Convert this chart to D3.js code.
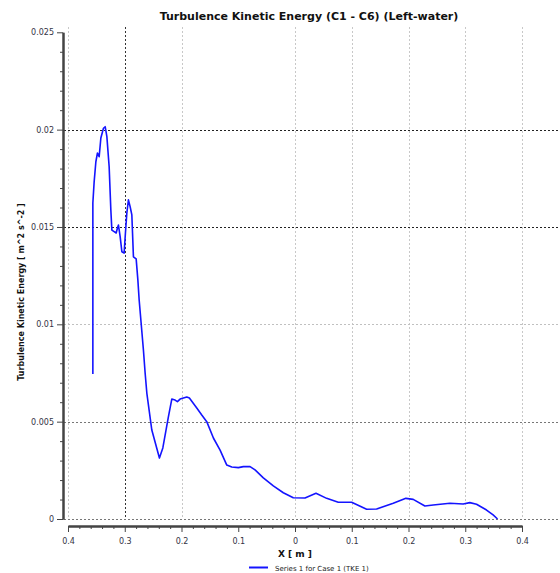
<!DOCTYPE html>
<html>
<head>
<meta charset="utf-8">
<script src="https://cdn.jsdelivr.net/npm/d3@7"></script>
<style>
  html, body { margin: 0; padding: 0; background: #fff; }
  svg { display: block; }
  text { font-family: "DejaVu Sans", Verdana, sans-serif; }
</style>
</head>
<body>
<svg id="chart" width="560" height="573"></svg>
<script>
// Profile of turbulence kinetic energy along X
const xPos = [
  -0.3562, -0.3562, -0.3539, -0.3509, -0.3481, -0.3451, -0.3421, -0.3375, -0.3345, -0.3315,
  -0.3275, -0.3245, -0.3227, -0.3187, -0.3151, -0.3129, -0.3111, -0.3081, -0.3051, -0.3011,
  -0.2988, -0.2963, -0.2935, -0.2905, -0.2875, -0.2847, -0.2799, -0.2769, -0.2746, -0.2671,
  -0.2641, -0.2611, -0.2523, -0.2389, -0.2329, -0.2231, -0.2171, -0.2113, -0.2072, -0.2025,
  -0.1907, -0.1861, -0.1731, -0.1643, -0.1555, -0.1438, -0.1320, -0.1202, -0.1114, -0.0998,
  -0.0910, -0.0792, -0.0704, -0.0558, -0.0382, -0.0206, -0.0030, 0.0176, 0.0370, 0.0558,
  0.0762, 0.0998, 0.1262, 0.1438, 0.1731, 0.1954, 0.2083, 0.2289, 0.2435, 0.2729,
  0.2963, 0.3081, 0.3199, 0.3375, 0.3491, 0.3569
];
const tke = [
  0.00745, 0.01623, 0.01733, 0.01835, 0.01880, 0.01861, 0.01957, 0.02007, 0.02015, 0.01964,
  0.01810, 0.01587, 0.01484, 0.01476, 0.01469, 0.01495, 0.01510, 0.01450, 0.01373, 0.01366,
  0.01469, 0.01572, 0.01639, 0.01604, 0.01562, 0.01347, 0.01336, 0.01228, 0.01125, 0.00868,
  0.00750, 0.00647, 0.00457, 0.00313, 0.00365, 0.00525, 0.00616, 0.00611, 0.00603, 0.00616,
  0.00627, 0.00622, 0.00570, 0.00534, 0.00500, 0.00416, 0.00354, 0.00277, 0.00267, 0.00264,
  0.00269, 0.00269, 0.00252, 0.00211, 0.00170, 0.00135, 0.00109, 0.00108, 0.00132, 0.00106,
  0.00086, 0.00086, 0.00050, 0.00051, 0.00081, 0.00106, 0.00101, 0.00067, 0.00072, 0.00081,
  0.00077, 0.00084, 0.00076, 0.00046, 0.00021, 0.0
];

// Axis ticks and their printed labels
const xTicks = [-0.4, -0.3, -0.2, -0.1, 0, 0.1, 0.2, 0.3, 0.4];
const xTickLabels = ["0.4", "0.3", "0.2", "0.1", "0", "0.1", "0.2", "0.3", "0.4"];
const yTicks = [0, 0.005, 0.01, 0.015, 0.02, 0.025];
const yTickLabels = ["0", "0.005", "0.01", "0.015", "0.02", "0.025"];

// Grid lines drawn across the plot
const xGridLight = [-0.4, -0.2, 0, 0.1, 0.2, 0.3, 0.4];
const xGridDark = [-0.3];
const yGridDark = [0.015, 0.02];
const yGridMid = [0, 0.005];
const yGridLight = [0.01];

const titleText = "Turbulence Kinetic Energy (C1 - C6) (Left-water)";
const xTitle = "X [ m ]";
const yTitle = "Turbulence Kinetic Energy [ m^2 s^-2 ]";
const seriesName = "Series 1 for Case 1 (TKE 1)";

const svg = d3.select("#chart");
const W = 560;
const plotTop = 27, plotBottom = 519;

const x = d3.scaleLinear().domain([-0.4, 0.4]).range([68, 522]);
const y = d3.scaleLinear().domain([0, 0.025]).range([519, 32.3]);

// Title
svg.append("text")
  .attr("x", 309).attr("y", 20)
  .attr("text-anchor", "middle")
  .attr("font-size", 11).attr("font-weight", "bold").attr("fill", "#111")
  .text(titleText);

// Grid
const grid = svg.append("g");
function vGrid(vals, color) {
  grid.selectAll(null).data(vals).enter().append("line")
    .attr("x1", d => Math.round(x(d)) + 0.5).attr("x2", d => Math.round(x(d)) + 0.5)
    .attr("y1", plotTop).attr("y2", plotBottom)
    .attr("stroke", color).attr("stroke-width", 1).attr("stroke-dasharray", "2,2");
}
function hGrid(vals, color) {
  grid.selectAll(null).data(vals).enter().append("line")
    .attr("x1", 64).attr("x2", W)
    .attr("y1", d => Math.round(y(d)) + 0.5).attr("y2", d => Math.round(y(d)) + 0.5)
    .attr("stroke", color).attr("stroke-width", 1).attr("stroke-dasharray", "2,2");
}
vGrid(xGridLight, "#c8c8c8");
hGrid(yGridLight, "#c0c0c0");
hGrid(yGridMid, "#777");
hGrid(yGridDark, "#222");
vGrid(xGridDark, "#333");

// Curve
const line = d3.line().x((d, i) => x(xPos[i])).y(d => y(d));
svg.append("path")
  .datum(tke)
  .attr("d", line)
  .attr("fill", "none")
  .attr("stroke", "#1414ff")
  .attr("stroke-width", 1.6)
  .attr("stroke-linejoin", "round");

// Y axis
const yMinor = d3.range(0, 0.02501, 0.001).filter(v => !yTicks.some(t => Math.abs(t - v) < 1e-9));
const yAxisG = svg.append("g").attr("transform", "translate(63,0)");
yAxisG.call(d3.axisLeft(y).tickValues(yMinor).tickSize(3).tickSizeOuter(0).tickFormat(""));
yAxisG.append("g").call(d3.axisLeft(y).tickValues(yTicks).tickSize(6).tickSizeOuter(0)
  .tickPadding(3).tickFormat((d, i) => yTickLabels[i]));
yAxisG.selectAll("path.domain").attr("stroke", "#444").attr("stroke-width", 2);
yAxisG.selectAll(".tick line").attr("stroke", "#444");
yAxisG.selectAll("text").attr("font-size", 8).attr("fill", "#334").attr("font-family", "DejaVu Sans, Verdana, sans-serif");

// X axis
const xMinor = d3.range(-0.4, 0.4001, 0.02).filter(v => !xTicks.some(t => Math.abs(t - v) < 1e-9));
const xAxisG = svg.append("g").attr("transform", "translate(0,526)");
xAxisG.call(d3.axisBottom(x).tickValues(xMinor).tickSize(3).tickSizeOuter(0).tickFormat(""));
xAxisG.append("g").call(d3.axisBottom(x).tickValues(xTicks).tickSize(6).tickSizeOuter(0)
  .tickPadding(6).tickFormat((d, i) => xTickLabels[i]));
xAxisG.selectAll("path.domain").attr("stroke", "#444").attr("stroke-width", 2);
xAxisG.selectAll(".tick line").attr("stroke", "#444");
xAxisG.selectAll("text").attr("font-size", 8).attr("fill", "#334").attr("font-family", "DejaVu Sans, Verdana, sans-serif");

// Axis titles
svg.append("text")
  .attr("x", 295).attr("y", 557)
  .attr("text-anchor", "middle")
  .attr("font-size", 9).attr("font-weight", "bold").attr("fill", "#111")
  .text(xTitle);

svg.append("text")
  .attr("transform", "translate(24,292) rotate(-90)")
  .attr("text-anchor", "middle")
  .attr("font-size", 8).attr("font-weight", "bold").attr("fill", "#111")
  .text(yTitle);

// Legend
svg.append("line")
  .attr("x1", 249).attr("x2", 268).attr("y1", 567.5).attr("y2", 567.5)
  .attr("stroke", "#1414ff").attr("stroke-width", 2);
svg.append("text")
  .attr("x", 275).attr("y", 570.5)
  .attr("font-size", 7).attr("fill", "#222")
  .text(seriesName);
</script>
</body>
</html>
